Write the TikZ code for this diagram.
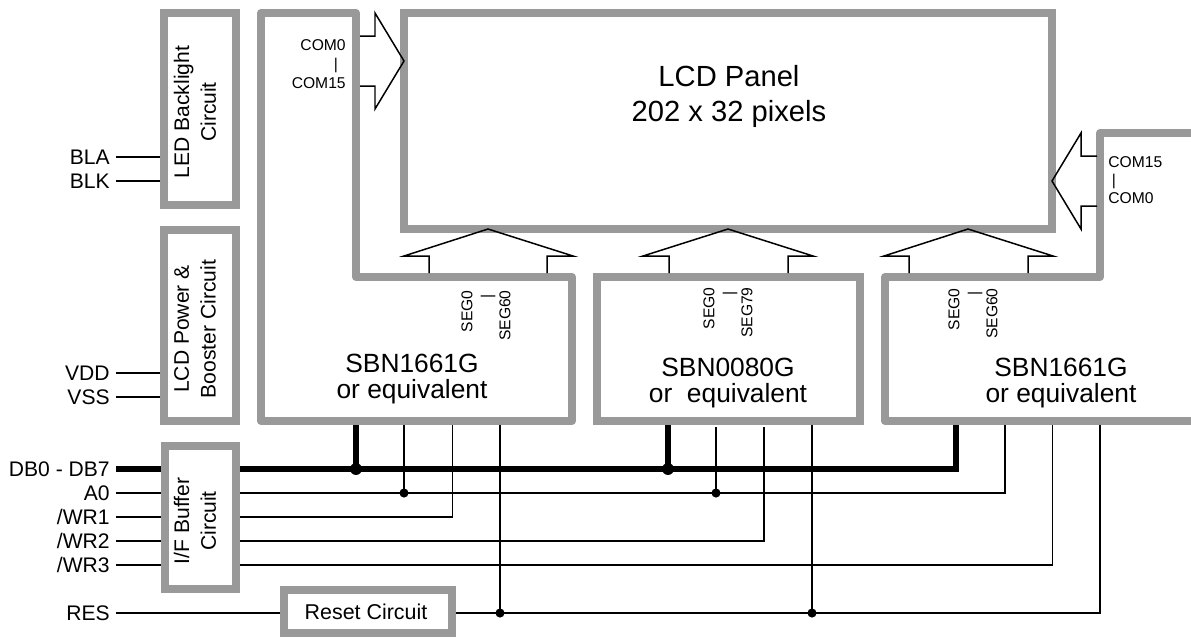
\documentclass[tikz,border=0pt]{standalone}
\usepackage{fontspec}
\setmainfont{Liberation Sans}
\usepackage{xcolor}
\usetikzlibrary{positioning,calc}
\definecolor{boxgrey}{HTML}{999999}

\begin{document}
\begin{tikzpicture}[x=0.02cm,y=0.02cm]
\tikzstyle{every node}+=[inner sep=0pt]
\tikzstyle{greybox}=[draw=boxgrey,line width=4.5pt]
\tikzstyle{chipline}=[draw=boxgrey,line width=4.5pt,line join=round]
\tikzstyle{wire}=[black,line width=0.8pt]
\tikzstyle{bus}=[black,line width=3pt]
\tikzstyle{arrowline}=[black,line width=0.85pt,line join=miter]
\tikzstyle{pinlabel}=[anchor=east,inner xsep=3.4pt,font=\fontsize{12}{14}\selectfont]
\tikzstyle{boxtext}=[align=center,font=\fontsize{12}{15.3}\selectfont]
\tikzstyle{chiptext}=[align=center,font=\fontsize{15}{15.3}\selectfont]
\tikzstyle{small}=[font=\fontsize{8.9}{10}\selectfont]
\tikzstyle{dot}=[circle,fill=black,minimum size=5.2pt]
\tikzstyle{busdot}=[circle,fill=black,minimum size=6.8pt]
\useasboundingbox (0,0) rectangle (1191,-637);
\draw [chipline] (261,-13) -- (356,-13) -- (356,-277) -- (572,-277) -- (572,-421) -- (261,-421) -- cycle;
\draw [chipline] (1200,-421) -- (885,-421) -- (885,-277) -- (1100,-277) -- (1100,-133) -- (1200,-133);
\node [greybox,minimum width=12.96cm,minimum height=4.32cm] (lcdbox) at (728,-121) {};
\node [greybox,minimum width=5.26cm,minimum height=2.88cm] (midbox) at (728.5,-349) {};
\node [greybox,minimum width=1.44cm,minimum height=3.84cm] (ledbox) at (200,-109) {};
\node [greybox,minimum width=1.44cm,minimum height=3.83cm] (pwrbox) at (200,-325.5) {};
\node [greybox,minimum width=1.42cm,minimum height=2.86cm] (ifbox) at (200.5,-517.5) {};
\node [greybox,minimum width=3.36cm,minimum height=0.86cm] (rstbox) at (368,-611.5) {};
\node [font=\fontsize{16.6}{20.2}\selectfont,align=center] (lcdtext) at (729,-96.5) {LCD Panel\\202 x 32 pixels};
\node [chiptext] (uatext) at (412,-379) {SBN1661G\\or equivalent};
\node [chiptext] (ubtext) at (728,-383) {SBN0080G\\or\ \ equivalent};
\node [chiptext] (uctext) at (1061,-383) {SBN1661G\\or equivalent};
\node [boxtext,rotate=90] (ledtext) at (195,-112) {LED Backlight\\Circuit};
\node [boxtext,rotate=90] (pwrtext) at (195,-329) {LCD Power \&\\Booster Circuit};
\node [boxtext,rotate=90] (iftext) at (195,-521) {I/F Buffer\\Circuit};
\node [font=\fontsize{12.2}{14}\selectfont] (rsttext) at (366,-612) {Reset Circuit};
\node [small,anchor=east] (coma) at (346,-45) {COM0};
\node [small] (comb) at (336,-65) {|};
\node [small,anchor=east] (comc) at (346,-83) {COM15};
\node [small,anchor=west] (comd) at (1108,-162) {COM15};
\node [small] (come) at (1114,-181) {|};
\node [small,anchor=west] (comf) at (1108,-198) {COM0};
\node [small,rotate=90,anchor=east] (sega) at (467,-290) {SEG0};
\node [small,rotate=90] (segb) at (488,-296) {|};
\node [small,rotate=90,anchor=east] (segc) at (505,-290) {SEG60};
\node [small,rotate=90,anchor=east] (segd) at (709,-287) {SEG0};
\node [small,rotate=90] (sege) at (730,-293) {|};
\node [small,rotate=90,anchor=east] (segf) at (747,-287) {SEG79};
\node [small,rotate=90,anchor=east] (segg) at (954,-288) {SEG0};
\node [small,rotate=90] (segh) at (975,-293) {|};
\node [small,rotate=90,anchor=east] (segi) at (992,-288) {SEG60};
\node [pinlabel] (bla) at (116,-157) {BLA};
\node [pinlabel] (blk) at (116,-181) {BLK};
\node [pinlabel] (vdd) at (116,-373) {VDD};
\node [pinlabel] (vss) at (116,-397) {VSS};
\node [pinlabel] (dbus) at (116,-469) {DB0 - DB7};
\node [pinlabel] (azero) at (116,-493) {A0};
\node [pinlabel] (wra) at (116,-517) {/WR1};
\node [pinlabel] (wrb) at (116,-541) {/WR2};
\node [pinlabel] (wrc) at (116,-565) {/WR3};
\node [pinlabel] (res) at (116,-613) {RES};
\coordinate (uadb) at (356,-425);
\coordinate (uaa) at (404,-425);
\coordinate (uawr) at (452.5,-425);
\coordinate (uares) at (500,-425);
\coordinate (ubdb) at (668,-425);
\coordinate (uba) at (716,-427);
\coordinate (ubwr) at (764,-427);
\coordinate (ubres) at (812,-425);
\coordinate (ucdb) at (956,-425);
\coordinate (uca) at (1005,-425);
\coordinate (ucwr) at (1052.5,-425);
\coordinate (ucres) at (1100,-425);
\draw [wire] (bla) -- (bla -| ledbox.west);
\draw [wire] (blk) -- (blk -| ledbox.west);
\draw [wire] (vdd) -- (vdd -| pwrbox.west);
\draw [wire] (vss) -- (vss -| pwrbox.west);
\draw [bus] (dbus) -- (dbus -| ifbox.west);
\draw [wire] (azero) -- (azero -| ifbox.west);
\draw [wire] (wra) -- (wra -| ifbox.west);
\draw [wire] (wrb) -- (wrb -| ifbox.west);
\draw [wire] (wrc) -- (wrc -| ifbox.west);
\draw [wire] (res) -- (res -| rstbox.west);
\draw [bus] (dbus -| ifbox.east) -| (ucdb);
\draw [bus] (uadb) -- (uadb |- dbus);
\draw [bus] (ubdb) -- (ubdb |- dbus);
\draw [wire] (azero -| ifbox.east) -| (uca);
\draw [wire] (uaa) -- (uaa |- azero);
\draw [wire] (uba) -- (uba |- azero);
\draw [wire] (wra -| ifbox.east) -| (uawr);
\draw [wire] (wrb -| ifbox.east) -| (ubwr);
\draw [wire] (wrc -| ifbox.east) -| (ucwr);
\draw [wire] (res -| rstbox.east) -| (ucres);
\draw [wire] (uares) -- (uares |- res);
\draw [wire] (ubres) -- (ubres |- res);
\node [busdot] (doa) at (uadb |- dbus) {};
\node [busdot] (dob) at (ubdb |- dbus) {};
\node [dot] (doc) at (uaa |- azero) {};
\node [dot] (dod) at (uba |- azero) {};
\node [dot] (doe) at (uares |- res) {};
\node [dot] (dof) at (ubres |- res) {};
\draw [arrowline] (360,-36) -- (375,-36) -- (375,-13) -- (404,-61) -- (375,-109) -- (375,-86) -- (360,-86);
\draw [arrowline] (1097,-156) -- (1081,-156) -- (1081,-133) -- (1052,-181) -- (1081,-229) -- (1081,-206) -- (1097,-206);
\draw [arrowline] (429,-273) -- (429,-256) -- (404,-256) -- (488,-229) -- (573,-256) -- (547,-256) -- (547,-273);
\draw [arrowline] (669,-273) -- (669,-256) -- (643,-256) -- (728,-229) -- (813,-256) -- (788,-256) -- (788,-273);
\draw [arrowline] (909,-273) -- (909,-256) -- (884,-256) -- (968,-229) -- (1053,-256) -- (1028,-256) -- (1028,-273);
\end{tikzpicture}
\end{document}
